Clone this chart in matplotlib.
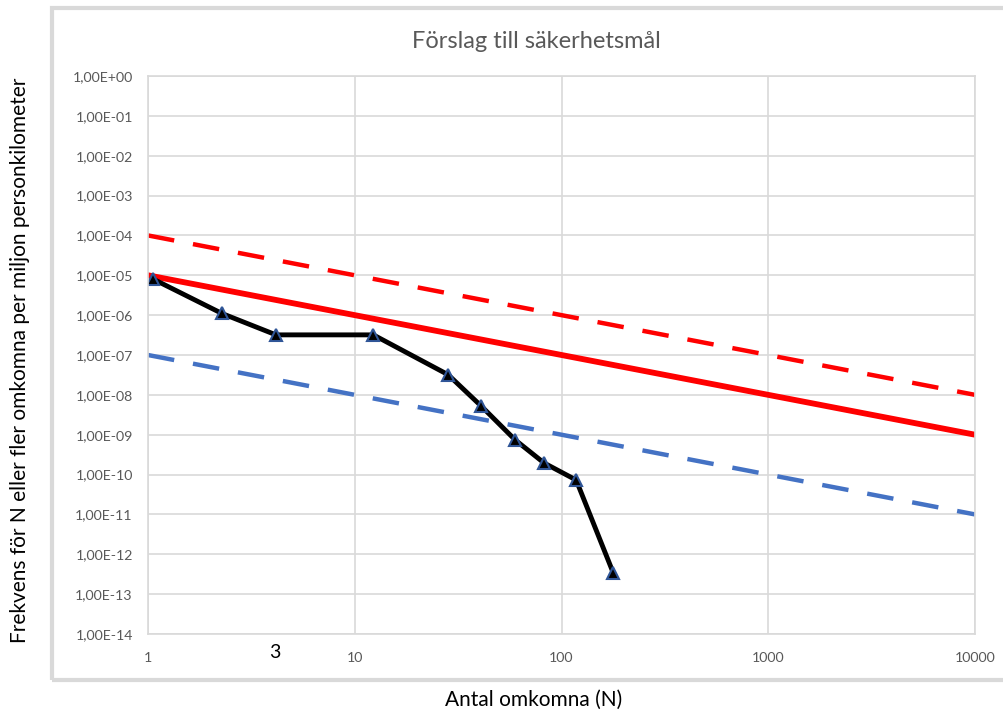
import numpy as np
import matplotlib
matplotlib.use("Agg")
import matplotlib.pyplot as plt
import matplotlib.patches as mpatches
from matplotlib.ticker import FixedLocator, FixedFormatter, NullLocator

plt.rcParams['font.family'] = ['Lato', 'DejaVu Sans']

# observed accidents: N and frequency of N or more deaths
obs_n = [1.06, 2.28, 4.16, 12.3, 28.3, 40.8, 59.7, 82.4, 117.7, 178]
obs_f = [8.0e-6, 1.1e-6, 3.2e-7, 3.2e-7, 3.2e-8, 5.3e-9, 7.4e-10, 1.95e-10, 7.3e-11, 3.4e-13]

# criterion lines (endpoints at N=1 and N=10000)
crit_n = [1, 10000]
upper_f = [1e-4, 1e-8]
target_f = [1e-5, 1e-9]
lower_f = [1e-7, 1e-11]

yticks = [10.0 ** (-k) for k in range(0, 15)]
ylabels = ["1,00E+00"] + ["1,00E-%02d" % k for k in range(1, 15)]
xticks = [1, 10, 100, 1000, 10000]
xlabels = ["1", "10", "100", "1000", "10000"]

fig = plt.figure(figsize=(10.04, 7.11), dpi=100)

# grey chart frame like the spreadsheet chart
fig.patches.append(mpatches.Rectangle((52 / 1004, 1 - 680 / 711), 1.0, (680 - 8) / 711,
                                      transform=fig.transFigure, fill=False,
                                      edgecolor='#d9d9d9', linewidth=3))

ax = fig.add_axes([148 / 1004, 1 - 634 / 711, (975 - 148) / 1004, (634 - 76) / 711])
ax.set_xscale('log')
ax.set_yscale('log')
ax.set_xlim(1, 10000)
ax.set_ylim(1e-14, 1)

dash = (0, (6, 4.3))
ax.plot(crit_n, upper_f, color='#ff0000', linewidth=3.2, linestyle=dash)
ax.plot(crit_n, target_f, color='#ff0000', linewidth=4.2)
ax.plot(crit_n, lower_f, color='#4472c4', linewidth=3.2, linestyle=dash)
ax.plot(obs_n, obs_f, color='black', linewidth=3.5, marker='^', markersize=9,
        markerfacecolor='black', markeredgecolor='#2f5597', markeredgewidth=1.5)

ax.xaxis.set_major_locator(FixedLocator(xticks))
ax.xaxis.set_major_formatter(FixedFormatter(xlabels))
ax.xaxis.set_minor_locator(NullLocator())
ax.yaxis.set_major_locator(FixedLocator(yticks))
ax.yaxis.set_major_formatter(FixedFormatter(ylabels))
ax.yaxis.set_minor_locator(NullLocator())
ax.tick_params(length=0, labelsize=10.2, colors='#595959')
ax.tick_params(axis='y', pad=11)
ax.tick_params(axis='x', pad=13)
ax.grid(True, color='#d9d9d9', linewidth=1.2)
ax.set_axisbelow(True)
for s in ax.spines.values():
    s.set_color('#d9d9d9')
    s.set_linewidth(1.2)

fig.text(536 / 1004, 1 - 42 / 711, "Förslag till säkerhetsmål", fontsize=17, color='#595959',
         ha='center', va='center')
fig.text(534 / 1004, 1 - 700 / 711, "Antal omkomna (N)", fontsize=15, ha='center', va='center')
fig.text(20 / 1004, 1 - 360 / 711, "Frekvens för N eller fler omkomna per miljon personkilometer",
         fontsize=15, rotation=90, ha='center', va='center')
fig.text(275 / 1004, 1 - 652 / 711, "3", fontsize=14, ha='center', va='center')

fig.savefig("out.png", dpi=100)
